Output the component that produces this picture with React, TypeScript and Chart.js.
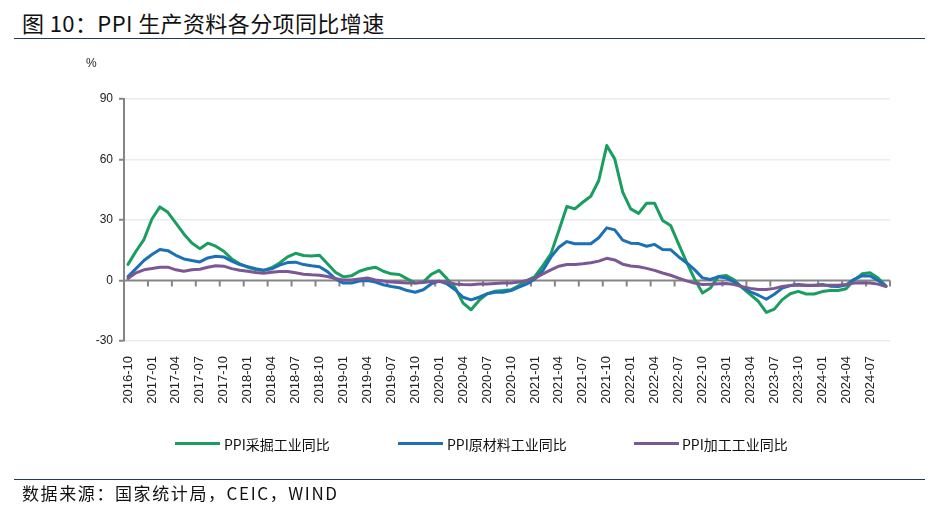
import { useEffect, useRef } from "react";
import { Chart, registerables } from "chart.js";

Chart.register(...registerables);

const categories: string[] = [
  "2016-10", "2016-11", "2016-12",
  "2017-01", "2017-02", "2017-03", "2017-04", "2017-05", "2017-06", "2017-07", "2017-08", "2017-09", "2017-10", "2017-11", "2017-12",
  "2018-01", "2018-02", "2018-03", "2018-04", "2018-05", "2018-06", "2018-07", "2018-08", "2018-09", "2018-10", "2018-11", "2018-12",
  "2019-01", "2019-02", "2019-03", "2019-04", "2019-05", "2019-06", "2019-07", "2019-08", "2019-09", "2019-10", "2019-11", "2019-12",
  "2020-01", "2020-02", "2020-03", "2020-04", "2020-05", "2020-06", "2020-07", "2020-08", "2020-09", "2020-10", "2020-11", "2020-12",
  "2021-01", "2021-02", "2021-03", "2021-04", "2021-05", "2021-06", "2021-07", "2021-08", "2021-09", "2021-10", "2021-11", "2021-12",
  "2022-01", "2022-02", "2022-03", "2022-04", "2022-05", "2022-06", "2022-07", "2022-08", "2022-09", "2022-10", "2022-11", "2022-12",
  "2023-01", "2023-02", "2023-03", "2023-04", "2023-05", "2023-06", "2023-07", "2023-08", "2023-09", "2023-10", "2023-11", "2023-12",
  "2024-01", "2024-02", "2024-03", "2024-04", "2024-05", "2024-06", "2024-07", "2024-08", "2024-09",
];

// PPI采掘工业同比
const mining: number[] = [
  8.0, 14.5, 20.3,
  30.5, 36.5, 33.8, 28.5, 23.1, 18.6, 15.8, 18.5, 17.0, 14.5, 10.7, 8.3,
  6.6, 5.4, 5.0, 6.3, 8.7, 11.7, 13.5, 12.4, 12.2, 12.5, 8.3, 4.1,
  1.8, 2.3, 4.6, 5.8, 6.6, 4.6, 3.3, 3.0, 0.8, -1.3, -0.8, 3.0,
  5.0, 0.8, -3.6, -11.2, -14.5, -9.9, -6.6, -5.3, -5.0, -4.6, -2.5, 0.0,
  2.0, 7.4, 13.2, 24.8, 36.7, 35.5, 38.8, 41.8, 49.6, 66.9, 60.3, 43.8,
  35.5, 33.3, 38.3, 38.3, 29.8, 27.3, 18.2, 9.1, 0.8, -6.2, -3.7, 2.0,
  2.5, 0.2, -3.7, -7.0, -10.3, -15.8, -14.2, -9.5, -6.6, -5.4, -6.7, -6.7,
  -5.5, -5.0, -5.0, -4.1, 0.2, 3.3, 3.8, 1.2, -2.8,
];

// PPI原材料工业同比
const rawMaterials: number[] = [
  2.0, 5.9, 9.9,
  12.9, 15.4, 14.8, 12.5, 10.7, 9.9, 9.2, 11.2, 12.0, 11.7, 9.6, 7.9,
  6.9, 5.9, 5.1, 5.8, 7.6, 8.9, 9.1, 7.9, 7.3, 6.8, 4.4, 0.8,
  -1.3, -1.3, -0.3, 0.0, -0.8, -2.1, -3.0, -3.6, -5.0, -5.8, -4.6, -1.7,
  -0.3, -1.7, -4.6, -8.3, -9.6, -8.3, -6.6, -5.8, -5.8, -5.0, -3.3, -1.7,
  0.8, 5.0, 11.6, 16.5, 19.3, 18.2, 18.2, 18.2, 21.2, 26.1, 25.1, 20.0,
  18.5, 18.3, 17.0, 17.9, 15.4, 15.3, 11.8, 8.8, 5.4, 1.3, 0.5, 1.9,
  1.2, -0.8, -3.3, -5.6, -7.3, -9.3, -6.8, -3.8, -2.5, -2.0, -2.5, -2.5,
  -2.0, -2.8, -3.0, -2.2, 0.6, 2.3, 2.2, 0.0, -2.8,
];

// PPI加工工业同比
const processing: number[] = [
  1.0, 3.8, 5.3,
  5.9, 6.6, 6.6, 5.3, 4.6, 5.3, 5.6, 6.6, 7.3, 7.1, 5.9, 5.1,
  4.6, 4.0, 3.6, 4.1, 4.5, 4.5, 3.8, 3.1, 2.8, 2.6, 2.0, 1.0,
  0.2, 0.3, 0.8, 1.2, 0.3, -0.3, -0.8, -1.0, -1.2, -1.3, -1.0, -0.5,
  -0.5, -0.8, -1.7, -2.0, -2.1, -1.7, -1.7, -1.5, -1.3, -1.2, -0.8, 0.0,
  1.2, 3.3, 5.3, 7.1, 7.9, 7.9, 8.3, 8.8, 9.6, 11.0, 10.2, 8.1,
  7.2, 6.8, 6.0, 5.0, 3.7, 2.6, 1.2, -0.2, -1.3, -2.0, -1.8, -1.6,
  -1.5, -2.0, -3.1, -3.9, -4.5, -4.5, -3.9, -3.0, -2.5, -2.2, -2.3, -2.4,
  -2.3, -2.4, -2.4, -2.0, -1.3, -1.1, -1.2, -1.8, -3.0,
];

const yTicks: number[] = [-30, 0, 30, 60, 90];

const seriesNames = ["PPI采掘工业同比", "PPI原材料工业同比", "PPI加工工业同比"];
const seriesColors = ["#1a9e60", "#1c70b5", "#7b5894"];

const AXIS_GRAY = "#858585";
const GRID_GRAY = "#ebebeb";

const zeroAxisPlugin = {
  id: "zeroAxis",
  beforeDatasetsDraw(chart: any) {
    const { ctx, chartArea, scales } = chart;
    const xs = scales.x;
    const ys = scales.y;
    const y0 = ys.getPixelForValue(0);
    const step = xs.getPixelForValue(1) - xs.getPixelForValue(0);
    ctx.save();
    ctx.strokeStyle = AXIS_GRAY;
    ctx.lineWidth = 2;
    ctx.beginPath();
    ctx.moveTo(chartArea.left, y0);
    ctx.lineTo(chartArea.right, y0);
    for (let i = 3; i <= categories.length; i += 3) {
      const px = xs.getPixelForValue(i) - step / 2;
      ctx.moveTo(px, y0);
      ctx.lineTo(px, y0 + 6);
    }
    ctx.stroke();
    ctx.restore();
  },
};

export default function App() {
  const canvasRef = useRef<HTMLCanvasElement | null>(null);

  useEffect(() => {
    if (!canvasRef.current) return;
    const dataSets = [mining, rawMaterials, processing];
    const chart = new Chart(canvasRef.current, {
      type: "line",
      data: {
        labels: categories,
        datasets: dataSets.map((d, i) => ({
          label: seriesNames[i],
          data: d,
          borderColor: seriesColors[i],
          backgroundColor: seriesColors[i],
          borderWidth: 3,
          pointRadius: 0,
          tension: 0,
          borderJoinStyle: "round" as const,
          borderCapStyle: "round" as const,
          order: 2 - i,
        })),
      },
      options: {
        animation: false,
        responsive: true,
        maintainAspectRatio: false,
        layout: { padding: { left: 0, right: 45, top: 99, bottom: 0 } },
        plugins: {
          legend: { display: false },
          tooltip: { enabled: false },
        },
        scales: {
          x: {
            type: "category",
            offset: true,
            grid: { display: false },
            border: { display: false },
            afterFit: (s: any) => {
              s.height = 173;
            },
            ticks: {
              autoSkip: false,
              minRotation: 90,
              maxRotation: 90,
              padding: 7,
              color: "#222",
              font: { family: "'Liberation Sans', Arial, sans-serif", size: 13 },
              callback: (_v: any, i: number) => (i % 3 === 0 ? categories[i] : ""),
            },
          },
          y: {
            min: -30,
            max: 90,
            afterFit: (s: any) => {
              s.width = 124;
            },
            afterBuildTicks: (s: any) => {
              s.ticks = yTicks.map((v) => ({ value: v }));
            },
            border: { display: true, color: AXIS_GRAY, width: 2 },
            grid: {
              color: (c: any) => (c.tick && c.tick.value === 0 ? "rgba(0,0,0,0)" : GRID_GRAY),
              lineWidth: 1.5,
              tickColor: AXIS_GRAY,
              tickLength: 5,
              tickWidth: 2,
            },
            ticks: {
              padding: 6,
              color: "#222",
              font: { family: "'Liberation Sans', Arial, sans-serif", size: 12 },
            },
          },
        },
      },
      plugins: [zeroAxisPlugin],
    });
    return () => chart.destroy();
  }, []);

  const cjk = "'Noto Sans CJK SC', 'Noto Sans', sans-serif";
  const legendItems = [
    { line: 175, text: 224 },
    { line: 398, text: 447 },
    { line: 634, text: 682 },
  ];

  return (
    <div
      style={{
        position: "fixed",
        left: 0,
        top: 0,
        width: 935,
        height: 514,
        background: "#fff",
        overflow: "hidden",
        fontFamily: cjk,
      }}
    >
      <div style={{ position: "absolute", left: 22, top: 6, fontSize: 22, color: "#111", whiteSpace: "nowrap", letterSpacing: 0.4 }}>
        图 10：PPI 生产资料各分项同比增速
      </div>
      <div style={{ position: "absolute", left: 14, top: 38, width: 911, height: 0, borderTop: "1.5px solid #1f3a5a" }} />
      <canvas
        ref={canvasRef}
        style={{ position: "absolute", left: 0, top: 0, width: 935, height: 514 }}
        width={935}
        height={514}
      />
      <div style={{ position: "absolute", left: 86, top: 56, fontSize: 12, color: "#222", fontFamily: "'Liberation Sans', Arial, sans-serif" }}>%</div>
      {legendItems.map((it, i) => (
        <div key={i}>
          <div style={{ position: "absolute", left: it.line, top: 442, width: 45, height: 3, background: seriesColors[i] }} />
          <div style={{ position: "absolute", left: it.text, top: 434, fontSize: 14, lineHeight: "20px", color: "#111", whiteSpace: "nowrap" }}>
            {seriesNames[i]}
          </div>
        </div>
      ))}
      <div style={{ position: "absolute", left: 14, top: 479, width: 911, height: 0, borderTop: "1.5px solid #1f3a5a" }} />
      <div style={{ position: "absolute", left: 22, top: 481, fontSize: 17, lineHeight: "24px", color: "#111", whiteSpace: "nowrap", letterSpacing: 1.6 }}>
        数据来源：国家统计局，CEIC，WIND
      </div>
    </div>
  );
}
